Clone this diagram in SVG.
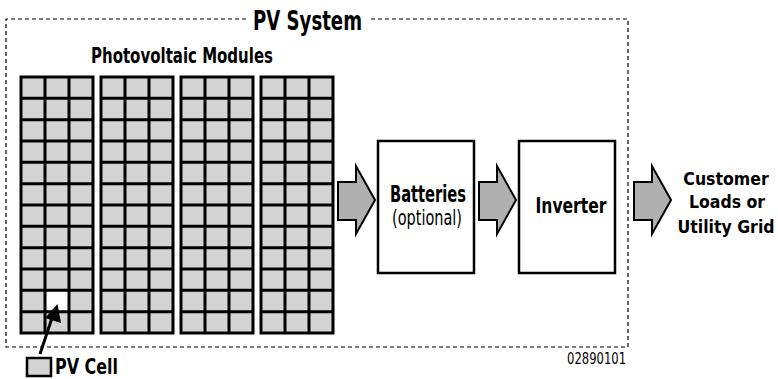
<svg xmlns="http://www.w3.org/2000/svg" xmlns:xlink="http://www.w3.org/1999/xlink" width="778" height="379" viewBox="0 0 778 379">
<style>
.t{font-family:"Liberation Sans Narrow","DejaVu Sans Condensed","Liberation Sans",sans-serif;font-weight:bold;fill:#000}
.r{font-family:"Liberation Sans Narrow","DejaVu Sans Condensed","Liberation Sans",sans-serif;font-weight:normal;fill:#000}
.grid{fill:none;stroke:#000;stroke-width:3}
.box{fill:#fff;stroke:#000;stroke-width:2.5}
.barrow{fill:#b0b0b0;stroke:#000;stroke-width:2;stroke-linejoin:miter}
.border{fill:none;stroke:#000;stroke-width:1.2;stroke-dasharray:4 3}
</style>
<defs>
<g id="mod">
<rect x="0" y="0" width="72" height="256" fill="#d4d4d4"/>
</g>
<path id="modlines" class="grid" d="M0,0H72V256H0Z M24,0V256 M48,0V256 M0,21.33H72 M0,42.67H72 M0,64H72 M0,85.33H72 M0,106.67H72 M0,128H72 M0,149.33H72 M0,170.67H72 M0,192H72 M0,213.33H72 M0,234.67H72"/>
</defs>
<rect width="778" height="379" fill="#fff"/>
<g id="pv-system-border">
<path class="border" d="M246,19H6V347H628V19H371"/>
<text class="t" x="307.5" y="30" font-size="27" text-anchor="middle" textLength="109" lengthAdjust="spacingAndGlyphs">PV System</text>
</g>
<g id="modules-label">
<text class="t" x="182" y="63" font-size="21" text-anchor="middle" textLength="182" lengthAdjust="spacingAndGlyphs">Photovoltaic Modules</text>
</g>
<g id="module1">
<use xlink:href="#mod" x="21" y="77"/>
<rect x="45" y="290.33" width="24" height="21.33" fill="#fff"/>
<use xlink:href="#modlines" x="21" y="77"/>
</g>
<g id="module2">
<use xlink:href="#mod" x="101" y="77"/>
<use xlink:href="#modlines" x="101" y="77"/>
</g>
<g id="module3">
<use xlink:href="#mod" x="181" y="77"/>
<use xlink:href="#modlines" x="181" y="77"/>
</g>
<g id="module4">
<use xlink:href="#mod" x="261" y="77"/>
<use xlink:href="#modlines" x="261" y="77"/>
</g>
<g id="batteries">
<rect class="box" x="378" y="141" width="96" height="132"/>
<text class="t" x="428" y="202" font-size="23" text-anchor="middle" textLength="76" lengthAdjust="spacingAndGlyphs">Batteries</text>
<text class="r" x="427" y="225" font-size="22" text-anchor="middle" textLength="70" lengthAdjust="spacingAndGlyphs">(optional)</text>
</g>
<g id="inverter">
<rect class="box" x="519" y="141" width="96" height="132"/>
<text class="t" x="571" y="213" font-size="21" text-anchor="middle" textLength="71" lengthAdjust="spacingAndGlyphs">Inverter</text>
</g>
<g id="customer">
<text class="t" x="726" y="185" font-size="17.5" text-anchor="middle">Customer</text>
<text class="t" x="727" y="208" font-size="17.5" text-anchor="middle">Loads or</text>
<text class="t" x="726" y="233" font-size="17.5" text-anchor="middle">Utility Grid</text>
</g>
<g id="pv-cell-legend">
<rect x="27" y="358" width="24" height="18" fill="#d4d4d4" stroke="#000" stroke-width="2.5"/>
<text class="t" x="55" y="374" font-size="22" textLength="63" lengthAdjust="spacingAndGlyphs">PV Cell</text>
</g>
<g id="ref-number">
<text class="r" x="626" y="364" font-size="16" text-anchor="end" textLength="59" lengthAdjust="spacingAndGlyphs">02890101</text>
</g>
<g id="connectors">
<path class="barrow" d="M338,182H356V166L375,200L356,234V220H338Z"/>
<path class="barrow" d="M479,182H497V166L516,200L497,234V220H479Z"/>
<path class="barrow" d="M634,182H652V166L671,200L652,234V220H634Z"/>
<line x1="40" y1="354" x2="52" y2="318" stroke="#000" stroke-width="3"/>
<path d="M57.5,304L61,323L45,318Z" fill="#000"/>
</g>
</svg>
